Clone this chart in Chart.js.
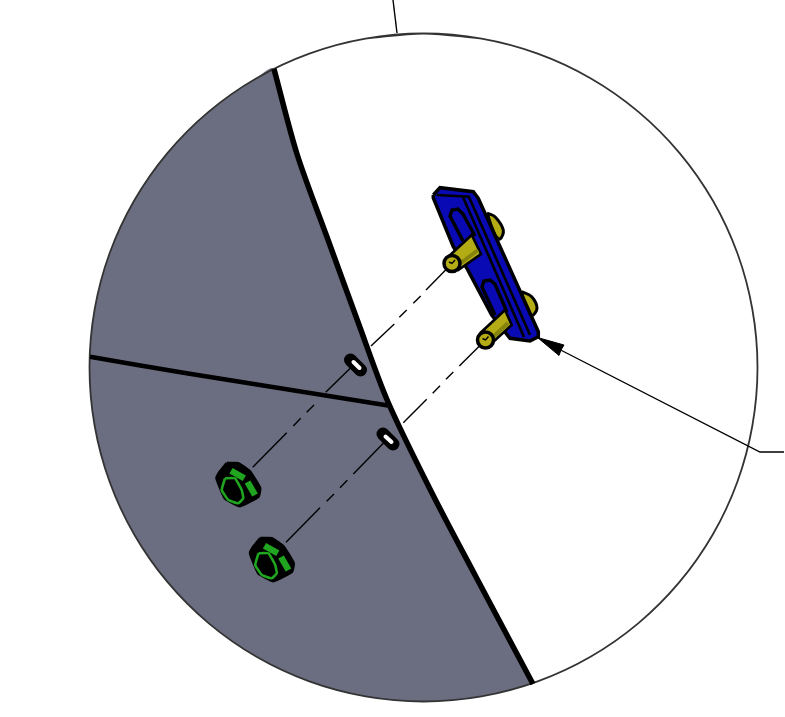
<!DOCTYPE html>
<html>
<head>
<meta charset="utf-8">
<title>Bracket assembly</title>
<script src="https://cdn.jsdelivr.net/npm/chart.js@4"></script>
<style>
  html, body { margin: 0; padding: 0; background: #fff; }
  canvas { display: block; }
</style>
</head>
<body>
<canvas id="drawing" width="785" height="717"></canvas>
<script>
// Everything is [x, y], in picture pixels
const circleOutline = [[365.5,38.6],[423.5,33.5],[481.5,38.6],[537.7,53.6],[590.5,78.2],[638.2,111.6],[679.4,152.8],[712.8,200.5],[737.4,253.3],[752.4,309.5],[757.5,367.5],[752.4,425.5],[737.4,481.7],[712.8,534.5],[679.4,582.2],[638.2,623.4],[590.5,656.8],[537.7,681.4],[481.5,696.4],[423.5,701.5],[365.5,696.4],[309.3,681.4],[256.5,656.8],[208.8,623.4],[167.6,582.2],[134.2,534.5],[109.6,481.7],[94.6,425.5],[89.5,367.5],[94.6,309.5],[109.6,253.3],[134.2,200.5],[167.6,152.8],[208.8,111.6],[256.5,78.2],[309.3,53.6],[365.5,38.6],[423.5,33.5],[481.5,38.6]];
const foldCurve = [[274,69],[297,154],[327,237],[358,322],[388,402],[433,495],[475,575],[533,684]];
const greyEdge = [[533,684],[481.5,696.4],[423.5,701.5],[365.5,696.4],[309.3,681.4],[256.5,656.8],[208.8,623.4],[167.6,582.2],[134.2,534.5],[109.6,481.7],[94.6,425.5],[89.5,367.5],[94.6,309.5],[109.6,253.3],[134.2,200.5],[167.6,152.8],[208.8,111.6],[256.5,78.2],[274,69]];
const seamLine = [[90,356.7],[185,373],[285,389],[388,405.5]];

const topLeader = [[393,0],[397,33]];
const arrowLeader = [[784,452],[760,452],[545,342]];
const arrowHead = [[537.5,337.5],[564,345],[561,350],[559,355.5],[537.5,337.5]];

const centerLinesA = [
  [[252.7,467.3],[286.7,432.7]], [[293.3,426],[300.7,418.3]], [[306.7,412.3],[314,405]], [[325.7,392.3],[352,366.5]],
  [[371,346],[394.3,324]], [[399.3,317.3],[406.7,310]], [[413.3,303.3],[420.7,296]], [[426,290],[452,263.5]]
];
const centerLinesB = [
  [[286,542.3],[320,507.7]], [[326.7,501.3],[334,494]], [[340,487.7],[347.3,480.3]], [[353.3,474],[385,441.5]],
  [[403.3,422.7],[426.7,399.3]], [[432.7,393.3],[440,385.7]], [[446,379.3],[453.3,372]], [[459.3,366],[485.5,340]]
];

const holeBlobs = [[[350.5,360],[360.5,370]], [[383,434],[393,444]]];
const holeSlits = [[[353.5,362],[359.5,368]], [[385.5,436.5],[391.5,442]]];

const nutBodies = [
  [[226.7,463.3],[238.3,463.3],[250,471.7],[260,488.3],[258.3,496.7],[240,506],[225,498.3],[216.7,478.3],[220,471.7],[226.7,463.3]],
  [[260.2,538.3],[271.8,538.3],[283.5,546.7],[293.5,563.3],[291.8,571.7],[273.5,581],[258.5,573.3],[250.2,553.3],[253.5,546.7],[260.2,538.3]]
];
const nutFlats = [
  [[231,470.7],[244.3,478.3]], [[247.5,482],[255,495]],
  [[264.5,545.7],[277.8,553.3]], [[281,557],[288.5,570]]
];
const nutRings = [
  [[225,478.3],[235,478.3],[241.7,490],[243.3,498.3],[238.3,503.3],[228.3,500],[221.7,490],[225,478.3]],
  [[258.5,553.3],[268.5,553.3],[275.2,565],[276.8,573.3],[271.8,578.3],[261.8,575],[255.2,565],[258.5,553.3]]
];

const backPins = [
  [[487,213],[495,216.7],[503.3,230],[500,239],[495,235],[487,213]],
  [[521.7,291.7],[531.7,296.7],[537,308.3],[531.7,316],[526.7,311.7],[521.7,291.7]]
];
const plateOutline = [[433.3,195],[440,187.7],[473.3,191.7],[478.3,198.3],[538.3,331.7],[538.3,336.7],[530,341],[510,338.3],[491.7,315],[466.7,268],[453.3,246.7],[433.3,198],[433.3,195]];
const plateLines = [
  [[436.7,195],[470,196.7]],
  [[463,197],[524,337]],
  [[469,197],[530,335]]
];
const plateSlots = [
  [[463,241],[450,216],[452,210],[458,209],[463,214],[475,236]],
  [[495,315],[482,287],[484,281],[490,280],[495,284],[507,312]]
];
const pinBodies = [
  [[448.3,256.7],[471.7,235],[481,254],[458.3,270],[448.3,256.7]],
  [[480,333.3],[505,310],[511.7,325],[490,345],[480,333.3]]
];
const pinShades = [
  [[457,266],[478,250]],
  [[489,341],[508,323]]
];
const pinEnds = [[452,263.5],[485.5,340]];
const pinBores = [
  [[449,262],[452,263.5],[455,260]],
  [[482.5,338.5],[485.5,340],[488.5,336.5]]
];

const GREY = '#6b6e80';
const BLUE = '#0a0ab4';
const OLIVE = '#b4ac14';
const DARK_OLIVE = '#86840c';
const GREEN = '#1fa51f';

// paint order, first one ends up at the back
const layers = [];
const stroke = (data, color, width, cap) => layers.push({ data, borderColor: color, borderWidth: width, borderCapStyle: cap || 'butt', fill: false });
const shape = (data, color, edge, width, tension) => layers.push({ data, backgroundColor: color, borderColor: edge, borderWidth: width, fill: 'shape', tension: tension || 0 });

shape(greyEdge.concat(foldCurve.slice(1)), GREY, GREY, 0, 0.3);
layers.push({ data: circleOutline, borderColor: '#333', borderWidth: 1.8, tension: 0.35, fill: false });
layers.push({ data: foldCurve, borderColor: '#000', borderWidth: 5.5, tension: 0.3, fill: false });
layers.push({ data: seamLine, borderColor: '#000', borderWidth: 4.5, tension: 0.3, fill: false });

stroke(topLeader, '#000', 1.4);
stroke(arrowLeader, '#000', 1.4);
shape(arrowHead, '#000', '#000', 1);

centerLinesA.concat(centerLinesB).forEach(seg => stroke(seg, '#000', 1.4));

holeBlobs.forEach(seg => stroke(seg, '#000', 13, 'round'));
holeSlits.forEach(seg => stroke(seg, '#fff', 4, 'round'));

nutBodies.forEach(body => shape(body, '#000', '#000', 3, 0.1));
nutFlats.forEach(seg => stroke(seg, GREEN, 6.5));
nutRings.forEach(ring => layers.push({ data: ring, borderColor: GREEN, borderWidth: 2.6, tension: 0.1, fill: false }));

backPins.forEach(pin => shape(pin, OLIVE, '#000', 3, 0.35));
shape(plateOutline, BLUE, '#000', 3.5);
plateLines.forEach(seg => stroke(seg, '#000', 2.6));
plateSlots.forEach(slot => stroke(slot, '#000', 3.4));
pinBodies.forEach(pin => shape(pin, OLIVE, '#000', 2.6));
pinShades.forEach(seg => stroke(seg, DARK_OLIVE, 4));
layers.push({ data: pinEnds, showLine: false, pointRadius: 8, pointBackgroundColor: OLIVE, pointBorderColor: '#000', pointBorderWidth: 3.5 });
pinBores.forEach(seg => stroke(seg, '#000', 1.4));

const datasets = layers.map(l => ({ showLine: true, pointRadius: 0, clip: false, tension: 0, ...l })).reverse();

new Chart(document.getElementById('drawing').getContext('2d'), {
  type: 'scatter',
  data: { datasets },
  options: {
    responsive: false,
    animation: false,
    layout: { padding: 0, autoPadding: false },
    plugins: { legend: { display: false }, tooltip: { enabled: false }, title: { display: false } },
    scales: {
      x: { type: 'linear', min: 0, max: 785, display: false },
      y: { type: 'linear', min: 0, max: 717, reverse: true, display: false }
    }
  }
});
</script>
</body>
</html>
